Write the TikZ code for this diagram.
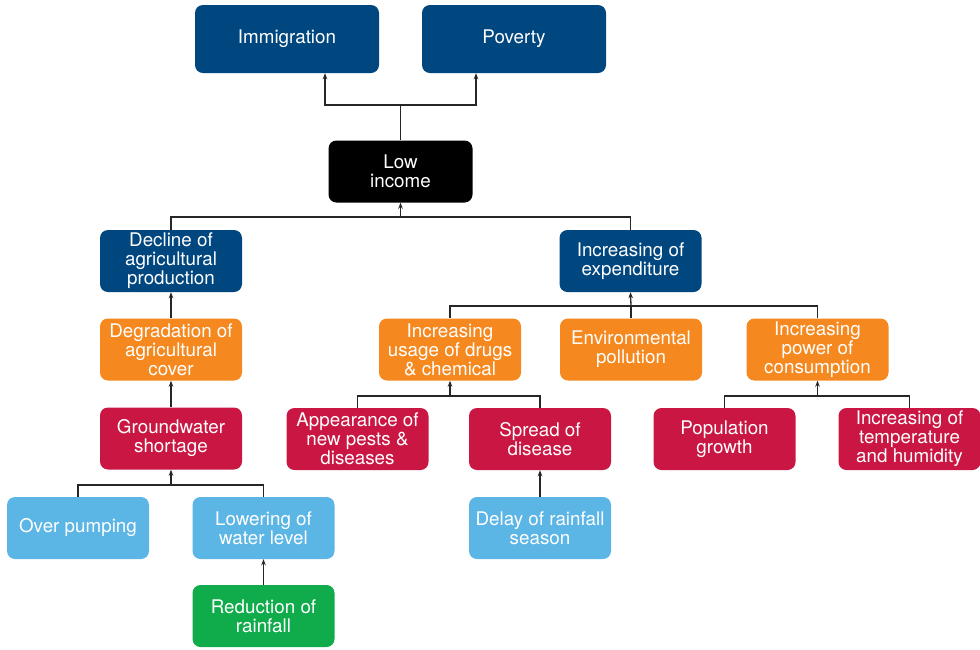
\documentclass[tikz,border=0pt]{standalone}
\usepackage{fontspec}
\setmainfont{TeX Gyre Heros}
\usetikzlibrary{arrows.meta}
\definecolor{dblue}{HTML}{00467F}
\definecolor{orng}{HTML}{F5891F}
\definecolor{crim}{HTML}{CA1642}
\definecolor{lblue}{HTML}{5BB5E5}
\definecolor{grn}{HTML}{10AB4B}
\tikzset{
  box/.style={rounded corners=8pt, inner sep=0pt, align=center, text=white,
    font=\fontsize{18.8}{19}\selectfont, minimum height=62pt, minimum width=142pt},
  conn/.style={line width=1.3pt, draw=black!85},
  arr/.style={conn, -{Stealth[length=6pt,width=4.5pt]}},
}
\begin{document}
\begin{tikzpicture}[x=1pt,y=-1pt]
\useasboundingbox (0,0) rectangle (980,649);
\node[box, fill=dblue, minimum width=184pt, minimum height=68pt] (immig) at (287,39) {Immigration};
\node[box, fill=dblue, minimum width=184pt, minimum height=68pt] (pov) at (514,39) {Poverty};
\node[box, fill=black, minimum width=144pt, minimum height=62pt] (low) at (400.5,171.5) {Low\\income};
\node[box, fill=dblue] (decl) at (171,261) {Decline of\\agricultural\\production};
\node[box, fill=dblue] (expd) at (630.5,261) {Increasing of\\expenditure};
\node[box, fill=orng] (degr) at (171,349.5) {Degradation of\\agricultural\\cover};
\node[box, fill=crim] (gw) at (171,438.5) {Groundwater\\shortage};
\node[box, fill=lblue] (pump) at (78,528) {Over pumping};
\node[box, fill=lblue] (lower) at (263.5,528) {Lowering of\\water level};
\node[box, fill=grn] (rain) at (263.5,616) {Reduction of\\rainfall};
\node[box, fill=orng] (drugs) at (450,349.5) {Increasing\\usage of drugs\\\& chemical};
\node[box, fill=orng] (poll) at (631,349.5) {Environmental\\pollution};
\node[box, fill=orng] (power) at (817.5,349.5) {Increasing\\power of\\consumption};
\node[box, fill=crim] (pests) at (357.5,439) {Appearance of\\new pests \&\\diseases};
\node[box, fill=crim] (spread) at (540,439) {Spread of\\disease};
\node[box, fill=lblue] (delay) at (540,528) {Delay of rainfall\\season};
\node[box, fill=crim] (popg) at (724.5,439) {Population\\growth};
\node[box, fill=crim] (temp) at (909.5,439) {Increasing of\\temperature\\and humidity};
% junctions
\coordinate (j1) at (400.5,105);
\coordinate (j2) at (400.5,217);
\coordinate (j3) at (631,306);
\coordinate (j4) at (450,396);
\coordinate (j5) at (817.5,396);
\coordinate (j6) at (171,485);
% top
\draw[conn] (low.north) -- (j1);
\draw[arr] (j1) -| ([xshift=38pt]immig.south);
\draw[arr] (j1) -| ([xshift=-38pt]pov.south);
% low income
\draw[conn] (decl.north) -- (decl.north |- j2) -- (expd.north |- j2) -- (expd.north);
\draw[arr] (j2) -- (low.south);
% left chain
\draw[arr] (degr.north) -- (decl.south);
\draw[arr] (gw.north) -- (degr.south);
\draw[conn] (pump.north) -- (pump.north |- j6) -- (lower.north |- j6) -- (lower.north);
\draw[arr] (j6) -- (gw.south);
\draw[arr] (rain.north) -- (lower.south);
% expenditure
\draw[conn] (drugs.north) -- (drugs.north |- j3) -- (power.north |- j3) -- (power.north);
\draw[conn] (poll.north) -- (j3);
\draw[arr] (j3) -- (expd.north |- expd.south);
% drugs
\draw[conn] (pests.north) -- (pests.north |- j4) -- (spread.north |- j4) -- (spread.north);
\draw[arr] (j4) -- (drugs.south);
\draw[arr] (delay.north) -- (spread.south);
% power
\draw[conn] (popg.north) -- (popg.north |- j5) -- (temp.north |- j5) -- (temp.north);
\draw[arr] (j5) -- (power.south);
\end{tikzpicture}
\end{document}
